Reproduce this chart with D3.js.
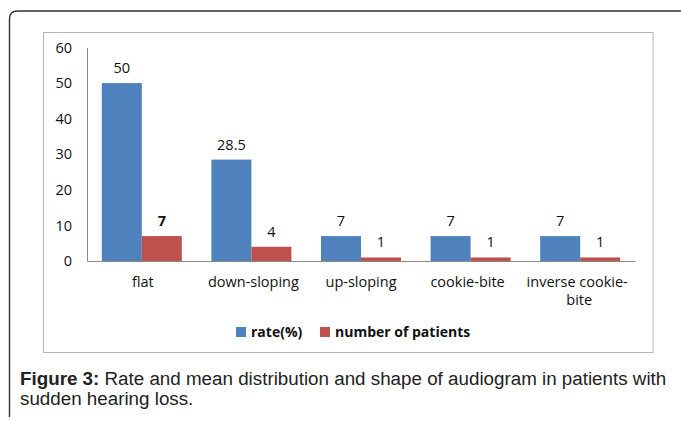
<!DOCTYPE html>
<html><head><meta charset="utf-8">
<script src="https://cdn.jsdelivr.net/npm/d3@7"></script>
<style>body{margin:0;background:#fff}svg{display:block}</style>
</head><body>
<script>
const categories = [["flat"],["down-sloping"],["up-sloping"],["cookie-bite"],["inverse cookie-","bite"]];
const rateValues = [50, 28.5, 7, 7, 7];
const patientValues = [7, 4, 1, 1, 1];
const seriesNames = ["rate(%)", "number of patients"];
const yTicks = [0,10,20,30,40,50,60];
const colors = ["#4F81BD", "#C0504D"];

const W = 681, H = 421;
const svg = d3.select("body").append("svg").attr("width", W).attr("height", H);

// outer frame (cut at right and bottom)
svg.append("path").attr("d", "M9.5,417 L9.5,19 Q9.5,11 17.5,11 L681,11")
  .attr("fill","none").attr("stroke","#333").attr("stroke-width",1.4);

// chart box
svg.append("rect").attr("x",43.5).attr("y",32.5).attr("width",609.5).attr("height",320)
  .attr("fill","#fff").attr("stroke","#b5b5b5").attr("stroke-width",1);

const x0 = 87, x1 = 635, yTop = 47.5, yBot = 261;
const x = d3.scaleBand().domain(d3.range(categories.length)).range([x0, x1]).paddingInner(0.27).paddingOuter(0.135);
const y = d3.scaleLinear().domain([0, 60]).range([yBot, yTop]);
const xs = d3.scaleBand().domain([0,1]).range([0, x.bandwidth()]);

const font = "'Open Sans', 'DejaVu Sans', sans-serif";
const fs = 14.5;

// y axis
const yAxis = d3.axisLeft(y).tickValues(yTicks).tickSize(0).tickPadding(15);
const gy = svg.append("g").attr("transform", `translate(${x0},0)`).call(yAxis);
gy.select(".domain").attr("stroke","#888");
gy.selectAll("text").attr("font-family", font).attr("font-size", fs).attr("fill","#111");

// x axis line
const xAxis = d3.axisBottom(d3.scaleLinear().range([x0,x1])).ticks(0).tickSize(0);
const gx = svg.append("g").attr("transform",`translate(0,${yBot})`).call(xAxis);
gx.select(".domain").attr("stroke","#888");
gx.selectAll("text").remove();

const series = [rateValues, patientValues];
series.forEach((vals, si) => {
  svg.append("g").selectAll("rect").data(vals).join("rect")
    .attr("x", (d,i) => x(i) + xs(si))
    .attr("y", d => y(d))
    .attr("width", xs.bandwidth())
    .attr("height", d => yBot - y(d))
    .attr("fill", colors[si]);
  svg.append("g").selectAll("text").data(vals).join("text")
    .attr("x", (d,i) => x(i) + xs(si) + xs.bandwidth()/2)
    .attr("y", d => y(d) - 10)
    .attr("text-anchor","middle")
    .attr("font-family", font).attr("font-size", fs).attr("fill","#111")
    .attr("font-weight", (d,i) => (si===1 && i===0) ? "bold" : "normal")
    .text(d => d);
});

// category labels
const labelShift = [1, 2, 0, -3, -3];
categories.forEach((lines, i) => {
  const t = svg.append("text").attr("text-anchor","middle")
    .attr("font-family", font).attr("font-size", fs).attr("fill","#111");
  lines.forEach((ln, k) => {
    t.append("tspan").attr("x", x(i) + x.bandwidth()/2 + labelShift[i] + (k===1 ? 2 : 0))
      .attr("y", 287 + k*18).text(ln);
  });
});

// legend
const lg = svg.append("g").attr("font-family", font).attr("font-size", 14).attr("font-weight","bold").attr("fill","#111");
const legX = [236, 320];
seriesNames.forEach((n, i) => {
  lg.append("rect").attr("x", legX[i]).attr("y", 327).attr("width", 10).attr("height", 10).attr("fill", colors[i]);
  lg.append("text").attr("x", legX[i] + 15).attr("y", 337).text(n);
});

// caption
const cap = svg.append("g").attr("font-family","'Liberation Sans', Arial, sans-serif").attr("font-size",18.8).attr("fill","#222");
const c1 = cap.append("text").attr("x",20).attr("y",385);
c1.append("tspan").attr("font-weight","bold").text("Figure 3:");
c1.append("tspan").text(" Rate and mean distribution and shape of audiogram in patients with");
cap.append("text").attr("x",20).attr("y",405).text("sudden hearing loss.");
</script>
</body></html>
